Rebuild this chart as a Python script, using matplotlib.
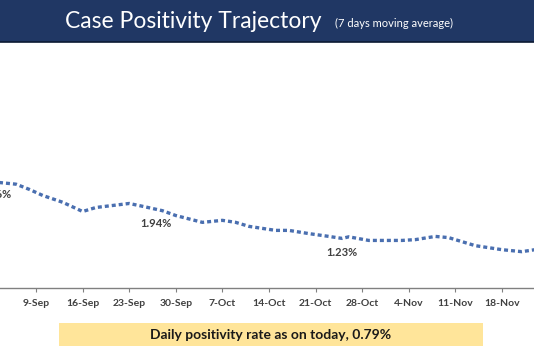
import matplotlib
matplotlib.use("Agg")
import matplotlib.pyplot as plt
import pandas as pd

# values (7 day moving average, %)
dates = ["2020-09-03", "2020-09-06", "2020-09-08", "2020-09-10", "2020-09-13",
         "2020-09-16", "2020-09-18", "2020-09-23", "2020-09-25", "2020-09-28",
         "2020-09-30", "2020-10-04", "2020-10-07", "2020-10-09", "2020-10-11",
         "2020-10-15", "2020-10-17", "2020-10-20", "2020-10-23", "2020-10-25",
         "2020-10-26", "2020-10-29", "2020-11-03", "2020-11-05", "2020-11-08",
         "2020-11-10", "2020-11-14", "2020-11-18", "2020-11-21", "2020-11-23"]
positivity = [2.63, 2.58, 2.45, 2.30, 2.13,
              1.90, 2.00, 2.10, 2.03, 1.92,
              1.80, 1.63, 1.68, 1.63, 1.53,
              1.43, 1.43, 1.35, 1.28, 1.23,
              1.27, 1.18, 1.18, 1.20, 1.28,
              1.25, 1.05, 0.95, 0.90, 0.95]

# the first label sits at the left edge and is cut off, as in the original
label_dates = ["2020-09-03", "2020-09-27", "2020-10-25"]
label_values = [2.66, 1.94, 1.23]
label_texts = ["2.66%", "1.94%", "1.23%"]

tick_labels = ["9-Sep", "16-Sep", "23-Sep", "30-Sep", "7-Oct", "14-Oct",
               "21-Oct", "28-Oct", "4-Nov", "11-Nov", "18-Nov"]
tick_dates = pd.date_range("2020-09-09", periods=len(tick_labels), freq="7D")

x = pd.to_datetime(dates)

fig = plt.figure(figsize=(5.34, 3.51), dpi=100)
fig.patch.set_facecolor("white")

# title bar
bar = fig.add_axes([0, 0.880, 1, 0.120])
bar.set_facecolor("#203764")
bar.set_xticks([])
bar.set_yticks([])
for s in bar.spines.values():
    s.set_visible(False)
fig.add_artist(plt.Line2D([0, 1], [0.879, 0.879], color="#0c1a33", lw=1.2))
fig.text(0.122, 0.938, "Case Positivity Trajectory", color="white",
         fontsize=16.5, family="Lato", va="center", ha="left")
fig.text(0.627, 0.934, "(7 days moving average)", color="white",
         fontsize=8, family="Lato", va="center", ha="left")

ax = fig.add_axes([0, 0.180, 1, 0.698])
ax.plot(x, positivity, color="#4a6fb0", lw=2.4, ls=(0, (1.2, 0.9)),
        solid_capstyle="butt", dash_capstyle="butt")
ax.set_xlim(pd.Timestamp("2020-09-03 14:00"), pd.Timestamp("2020-11-22 20:00"))
ax.set_ylim(0, 6.1)

for d, v, t in zip(label_dates, label_values, label_texts):
    ax.annotate(t, (pd.Timestamp(d), v), xytext=(0, -10), textcoords="offset points",
                ha="center", va="center", fontsize=8, color="#404040",
                family="Lato", fontweight="bold", annotation_clip=False)

ax.set_xticks(tick_dates)
ax.set_xticklabels(tick_labels, fontsize=7.5, fontweight="bold", color="#404040",
                   family="Lato")
ax.tick_params(axis="x", length=3, width=0.8, color="#808080", pad=5)
ax.set_yticks([])
for s in ["top", "left", "right"]:
    ax.spines[s].set_visible(False)
ax.spines["bottom"].set_color("#808080")
ax.spines["bottom"].set_linewidth(1.0)

# note box
fig.patches.append(plt.Rectangle((0.110, 0.015), 0.795, 0.065, transform=fig.transFigure,
                                 facecolor="#ffe59a", edgecolor="none"))
fig.text(0.507, 0.047, "Daily positivity rate as on today, 0.79%", ha="center",
         va="center", fontsize=10, fontweight="bold", color="#1a1a1a", family="Lato")

fig.savefig("out.png", dpi=100)
